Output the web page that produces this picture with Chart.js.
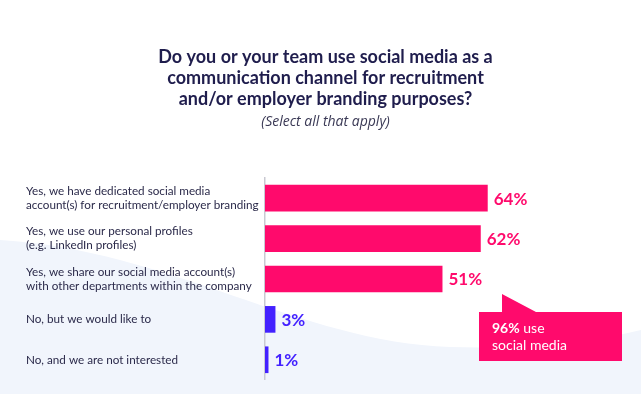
<!DOCTYPE html>
<html>
<head>
<meta charset="utf-8">
<script src="https://cdn.jsdelivr.net/npm/chart.js@4.4.1/dist/chart.umd.min.js"></script>
<style>
html,body{margin:0;padding:0;background:#fff;}
#wrap{width:641px;height:394px;position:relative;}
</style>
</head>
<body>
<div id="wrap"><canvas id="c" width="641" height="394"></canvas></div>
<script>
const categories = [
  ["Yes, we have dedicated social media", "account(s) for recruitment/employer branding"],
  ["Yes, we use our personal profiles", "(e.g. LinkedIn profiles)"],
  ["Yes, we share our social media account(s)", "with other departments within the company"],
  "No, but we would like to",
  "No, and we are not interested"
];
const values = [64, 62, 51, 3, 1];
const valueLabels = ["64%", "62%", "51%", "3%", "1%"];
const barColors = ["#FF0A6C", "#FF0A6C", "#FF0A6C", "#4321FF", "#4321FF"];
const titleLines = ["Do you or your team use social media as a", "communication channel for recruitment", "and/or employer branding purposes?"];
const subtitleText = "(Select all that apply)";
const calloutBold = "96%";
const calloutRest = [" use", "social media"];

const bgPlugin = {
  id: 'bg',
  beforeDraw(chart) {
    const ctx = chart.ctx;
    ctx.save();
    ctx.fillStyle = '#ffffff';
    ctx.fillRect(0, 0, chart.width, chart.height);
    ctx.fillStyle = '#F1F5FC';
    ctx.beginPath();
    ctx.moveTo(0, 240);
    ctx.bezierCurveTo(170, 250, 300, 342, 450, 347);
    ctx.quadraticCurveTo(560, 350, 641, 330);
    ctx.lineTo(641, 394);
    ctx.lineTo(0, 394);
    ctx.closePath();
    ctx.fill();
    // heading
    ctx.textAlign = 'center';
    ctx.textBaseline = 'middle';
    ctx.fillStyle = '#1F1D4D';
    ctx.font = 'bold 18px Lato, sans-serif';
    titleLines.forEach((t, i) => ctx.fillText(t, 325.5, 57 + i * 21));
    ctx.fillStyle = '#3A3955';
    ctx.font = 'italic 14px "Open Sans", sans-serif';
    ctx.fillText(subtitleText, 325.5, 122);
    ctx.restore();
  }
};

const labelPlugin = {
  id: 'vlabels',
  afterDatasetsDraw(chart) {
    const ctx = chart.ctx;
    const meta = chart.getDatasetMeta(0);
    ctx.save();
    ctx.font = 'bold 17px Lato, "Open Sans", sans-serif';
    ctx.textBaseline = 'middle';
    ctx.textAlign = 'left';
    meta.data.forEach((bar, i) => {
      ctx.fillStyle = barColors[i];
      ctx.fillText(valueLabels[i], bar.x + 6, bar.y + 1);
    });
    // callout
    const x0 = 479, y0 = 312, x1 = 622, y1 = 361;
    ctx.fillStyle = '#FF0A6C';
    ctx.beginPath();
    ctx.moveTo(x0, y0);
    ctx.lineTo(502, y0);
    ctx.lineTo(502, 294);
    ctx.lineTo(536, y0);
    ctx.lineTo(x1, y0);
    ctx.lineTo(x1, y1);
    ctx.lineTo(x0, y1);
    ctx.closePath();
    ctx.fill();
    ctx.fillStyle = '#ffffff';
    ctx.font = 'bold 14px Lato, sans-serif';
    ctx.fillText(calloutBold, 492, 328);
    const w = ctx.measureText(calloutBold).width;
    ctx.font = '14px Lato, sans-serif';
    ctx.fillText(calloutRest[0], 492 + w, 328);
    ctx.fillText(calloutRest[1], 492, 345);
    ctx.restore();
  }
};

new Chart(document.getElementById('c'), {
  type: 'bar',
  data: {
    labels: categories,
    datasets: [{
      data: values,
      backgroundColor: barColors,
      borderWidth: 0,
      categoryPercentage: 1,
      barPercentage: 0.66
    }]
  },
  options: {
    indexAxis: 'y',
    responsive: false,
    animation: false,
    devicePixelRatio: 1,
    layout: { padding: { left: 26, right: 28, top: 178, bottom: 11 } },
    plugins: {
      legend: { display: false },
      tooltip: { enabled: false },
      title: { display: false },
      subtitle: { display: false }
    },
    scales: {
      x: {
        display: false,
        min: 0,
        max: 100
      },
      y: {
        afterFit(scale) { scale.width = 239; },
        grid: { display: false, drawTicks: false },
        border: { display: true, color: '#C9C9D2', width: 1.5 },
        ticks: {
          crossAlign: 'far',
          color: '#2B2A4A',
          font: { family: 'Lato, sans-serif', size: 11.7, lineHeight: 1.2 },
          padding: 0
        }
      }
    }
  },
  plugins: [bgPlugin, labelPlugin]
});
</script>
</body>
</html>
